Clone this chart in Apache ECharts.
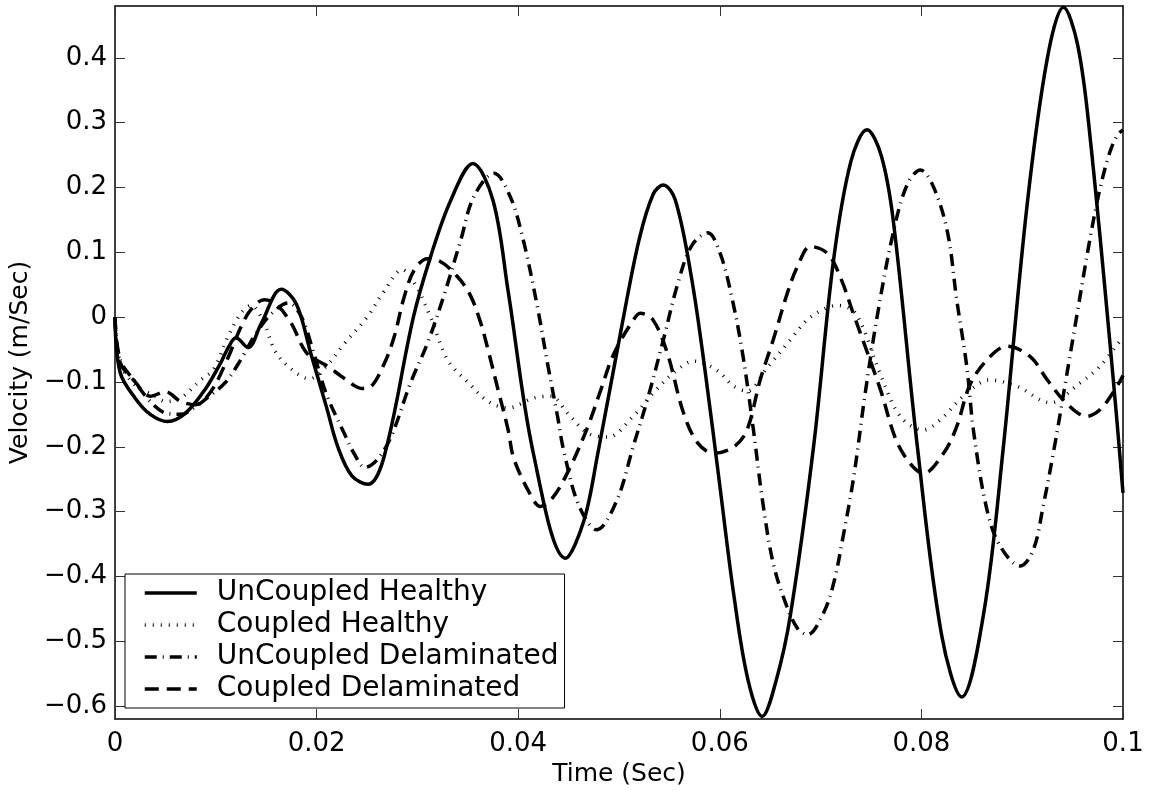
<!DOCTYPE html>
<html>
<head>
<meta charset="utf-8">
<script src="https://cdn.jsdelivr.net/npm/echarts@6/dist/echarts.min.js"></script>
<style>
html,body{margin:0;padding:0;background:#fff;}
#chart{width:1153px;height:793px;}
</style>
</head>
<body>
<div id="chart"></div>
<script>
// ---- data (time in s, velocity in m/s) ----
const seriesNames = ['UnCoupled Healthy', 'Coupled Healthy', 'UnCoupled Delaminated', 'Coupled Delaminated'];

const uncoupledHealthy = [
  [0,0],[0.0005,-0.085],[0.002,-0.125],[0.0035,-0.15],[0.0052,-0.161],[0.007,-0.148],[0.009,-0.11],
  [0.0105,-0.07],[0.0113,-0.045],[0.012,-0.032],[0.0132,-0.047],[0.0145,-0.01],[0.0165,0.043],
  [0.018,0.02],[0.0194,-0.055],[0.021,-0.14],[0.0221,-0.2],[0.0235,-0.245],[0.0251,-0.258],
  [0.0267,-0.215],[0.0296,0.0],[0.0313,0.093],[0.0333,0.18],[0.0355,0.237],[0.0375,0.18],[0.039,0.04],
  [0.0415,-0.21],[0.0447,-0.372],[0.0465,-0.315],[0.0479,-0.21],[0.0502,-0.02],[0.052,0.12],
  [0.0534,0.19],[0.0544,0.204],[0.0556,0.18],[0.0572,0.06],[0.0586,-0.09],[0.06,-0.26],
  [0.0614,-0.43],[0.0628,-0.56],[0.0642,-0.616],[0.0656,-0.56],[0.067,-0.46],[0.0693,-0.2],
  [0.0713,0.09],[0.073,0.24],[0.0746,0.289],[0.076,0.25],[0.0772,0.15],[0.0796,-0.2],[0.082,-0.49],
  [0.084,-0.586],[0.0862,-0.455],[0.0881,-0.205],[0.0905,0.175],[0.0925,0.4],[0.0941,0.478],
  [0.0955,0.42],[0.0967,0.283],[0.099,-0.09],[0.1,-0.271]
];

const coupledHealthy = [
  [0,0],[0.0005,-0.07],[0.002,-0.105],[0.004,-0.122],[0.005,-0.13],[0.0065,-0.125],[0.0085,-0.097],
  [0.0098,-0.08],[0.0112,-0.03],[0.0125,0.006],[0.0135,0.018],[0.0148,-0.01],[0.0158,-0.05],
  [0.0171,-0.075],[0.0193,-0.095],[0.021,-0.075],[0.0228,-0.04],[0.025,0.0],[0.0267,0.04],
  [0.0285,0.073],[0.0298,0.05],[0.0313,0.0],[0.033,-0.066],[0.0353,-0.105],[0.037,-0.13],
  [0.039,-0.14],[0.0415,-0.125],[0.0432,-0.122],[0.045,-0.15],[0.0469,-0.179],[0.0489,-0.185],
  [0.0514,-0.153],[0.0534,-0.117],[0.0555,-0.085],[0.0574,-0.068],[0.0597,-0.082],[0.0614,-0.107],
  [0.0627,-0.114],[0.0647,-0.078],[0.067,-0.035],[0.069,0.0],[0.0717,0.018],[0.0735,0.005],
  [0.0759,-0.087],[0.0779,-0.153],[0.0802,-0.174],[0.0819,-0.158],[0.0845,-0.117],[0.0868,-0.097],
  [0.0895,-0.107],[0.0928,-0.132],[0.0957,-0.102],[0.0977,-0.076],[0.1,-0.03]
];

const uncoupledDelaminated = [
  [0,0],[0.0005,-0.065],[0.002,-0.1],[0.0035,-0.13],[0.005,-0.148],[0.0065,-0.15],[0.008,-0.138],
  [0.0095,-0.12],[0.011,-0.1],[0.0125,-0.065],[0.014,-0.025],[0.0155,0.005],[0.0172,0.022],
  [0.0185,0.0],[0.0198,-0.06],[0.021,-0.12],[0.0227,-0.178],[0.0237,-0.21],[0.0248,-0.232],
  [0.026,-0.22],[0.0274,-0.184],[0.0293,-0.102],[0.031,-0.04],[0.0326,0.032],[0.0343,0.119],
  [0.0356,0.186],[0.0376,0.222],[0.0392,0.186],[0.0405,0.119],[0.0419,0.016],[0.0429,-0.071],
  [0.0439,-0.153],[0.0445,-0.205],[0.046,-0.29],[0.0478,-0.328],[0.0498,-0.282],[0.0514,-0.2],
  [0.0528,-0.128],[0.0544,-0.035],[0.0558,0.05],[0.0572,0.11],[0.0588,0.13],[0.06,0.1],
  [0.0612,0.03],[0.0623,-0.06],[0.0633,-0.17],[0.0643,-0.29],[0.0653,-0.38],[0.0665,-0.44],
  [0.0677,-0.48],[0.0687,-0.49],[0.0703,-0.456],[0.0713,-0.41],[0.0723,-0.333],[0.0733,-0.245],
  [0.0744,-0.12],[0.0756,0.0],[0.0772,0.13],[0.0786,0.205],[0.0799,0.227],[0.0812,0.201],
  [0.0826,0.13],[0.0835,0.027],[0.0845,-0.076],[0.0852,-0.179],[0.0865,-0.297],[0.0878,-0.353],
  [0.0898,-0.384],[0.0911,-0.359],[0.0921,-0.29],[0.0932,-0.2],[0.0943,-0.1],[0.0955,0.01],
  [0.0966,0.11],[0.0976,0.19],[0.0986,0.25],[0.0994,0.28],[0.1,0.289]
];

const coupledDelaminated = [
  [0,0],[0.0005,-0.07],[0.002,-0.1],[0.0035,-0.122],[0.005,-0.115],[0.0065,-0.13],[0.008,-0.135],
  [0.0095,-0.115],[0.011,-0.07],[0.0125,-0.015],[0.0135,0.012],[0.0148,0.027],[0.016,0.02],
  [0.0175,-0.01],[0.019,-0.055],[0.0211,-0.076],[0.0228,-0.095],[0.0245,-0.11],[0.0254,-0.107],
  [0.0267,-0.072],[0.0277,-0.03],[0.0287,0.032],[0.0297,0.073],[0.031,0.09],[0.032,0.088],
  [0.034,0.062],[0.0353,0.032],[0.0363,-0.01],[0.037,-0.05],[0.038,-0.112],[0.039,-0.174],
  [0.0396,-0.22],[0.0415,-0.282],[0.0422,-0.292],[0.0435,-0.277],[0.0452,-0.23],[0.0469,-0.169],
  [0.0482,-0.112],[0.0495,-0.056],[0.0514,-0.005],[0.0521,0.006],[0.0534,-0.005],[0.0548,-0.056],
  [0.0564,-0.148],[0.0578,-0.194],[0.0594,-0.21],[0.0614,-0.2],[0.0627,-0.174],[0.064,-0.097],
  [0.0653,-0.035],[0.0667,0.037],[0.0677,0.078],[0.069,0.109],[0.0707,0.098],[0.072,0.06],
  [0.0733,0.003],[0.0746,-0.053],[0.076,-0.115],[0.0775,-0.19],[0.079,-0.228],[0.0802,-0.241],
  [0.0822,-0.21],[0.0835,-0.169],[0.0848,-0.105],[0.0865,-0.066],[0.0885,-0.045],[0.0908,-0.061],
  [0.0925,-0.097],[0.0944,-0.133],[0.0964,-0.153],[0.0977,-0.143],[0.0992,-0.112],[0.1,-0.09]
];

// ---- ticks ----
const xTickValues = [0, 0.02, 0.04, 0.06, 0.08, 0.1];
const xTickLabels = ['0', '0.02', '0.04', '0.06', '0.08', '0.1'];
const yTickValues = [-0.6, -0.5, -0.4, -0.3, -0.2, -0.1, 0, 0.1, 0.2, 0.3, 0.4];
const yTickLabels = ['\u22120.6', '\u22120.5', '\u22120.4', '\u22120.3', '\u22120.2', '\u22120.1', '0', '0.1', '0.2', '0.3', '0.4'];
const xRange = [0, 0.1];
const yRange = [-0.62, 0.48];

function labelFor(values, labels, v) {
  for (let i = 0; i < values.length; i++) if (Math.abs(values[i] - v) < 1e-9) return labels[i];
  return '';
}

const FONT = 'DejaVu Sans';
const axisLineStyle = { color: '#000', width: 1.5 };
const tickStyle = { color: '#333', width: 1 };

const chart = echarts.init(document.getElementById('chart'), null, { renderer: 'canvas' });

function frameAxis(extra) {
  return Object.assign({
    axisLine: { show: true, onZero: false, lineStyle: axisLineStyle },
    splitLine: { show: false }
  }, extra);
}

const option = {
  animation: false,
  backgroundColor: '#fff',
  textStyle: { fontFamily: FONT },
  grid: { left: 114, right: 30, top: 6, bottom: 74 },
  xAxis: [
    frameAxis({
      type: 'value', min: xRange[0], max: xRange[1], position: 'bottom',
      name: 'Time (Sec)', nameLocation: 'middle', nameGap: 42,
      nameTextStyle: { fontFamily: FONT, fontSize: 25, color: '#000' },
      axisTick: { show: true, inside: true, length: 10, customValues: xTickValues, lineStyle: tickStyle },
      axisLabel: { show: true, fontFamily: FONT, fontSize: 26, color: '#000', margin: 12,
        customValues: xTickValues, formatter: v => labelFor(xTickValues, xTickLabels, v) }
    }),
    frameAxis({
      type: 'value', min: xRange[0], max: xRange[1], position: 'top',
      axisTick: { show: true, inside: true, length: 10, customValues: xTickValues, lineStyle: tickStyle },
      axisLabel: { show: false }
    })
  ],
  yAxis: [
    frameAxis({
      type: 'value', min: yRange[0], max: yRange[1], position: 'left',
      name: 'Velocity (m/Sec)', nameLocation: 'middle', nameGap: 66, nameRotate: 90,
      nameTextStyle: { fontFamily: FONT, fontSize: 25, color: '#000' },
      axisTick: { show: true, inside: true, length: 10, customValues: yTickValues, lineStyle: tickStyle },
      axisLabel: { show: true, fontFamily: FONT, fontSize: 26, color: '#000', margin: 8,
        customValues: yTickValues, formatter: v => labelFor(yTickValues, yTickLabels, v) }
    }),
    frameAxis({
      type: 'value', min: yRange[0], max: yRange[1], position: 'right',
      axisTick: { show: true, inside: true, length: 10, customValues: yTickValues, lineStyle: tickStyle },
      axisLabel: { show: false }
    })
  ],
  legend: {
    orient: 'vertical', left: 125, top: 574,
    padding: [5, 6, 5, 18],
    itemWidth: 52, itemHeight: 14, itemGap: 4,
    borderColor: '#000', borderWidth: 1, borderRadius: 0, backgroundColor: '#fff',
    itemStyle: { opacity: 0, borderWidth: 0 },
    lineStyle: { width: 3.5, type: 'inherit', color: '#000', cap: 'butt' },
    textStyle: { fontFamily: FONT, fontSize: 28, color: '#000', padding: [0, 0, 0, 15] },
    data: seriesNames
  },
  series: [
    { name: seriesNames[0], data: uncoupledHealthy, lineStyle: { width: 3.5, type: 'solid' } },
    { name: seriesNames[1], data: coupledHealthy, lineStyle: { width: 3.5, type: [1, 7] } },
    { name: seriesNames[2], data: uncoupledDelaminated, lineStyle: { width: 3.5, type: [12, 6, 1, 6] } },
    { name: seriesNames[3], data: coupledDelaminated, lineStyle: { width: 3.5, type: [14, 8] } }
  ].map(s => Object.assign({
    type: 'line', xAxisIndex: 0, yAxisIndex: 0, showSymbol: false, symbol: 'none',
    smooth: 0.35, clip: true, color: '#000', itemStyle: { color: '#000' }
  }, s, { lineStyle: Object.assign({ color: '#000', cap: 'butt', join: 'round' }, s.lineStyle) }))
};

chart.setOption(option);
</script>
</body>
</html>
